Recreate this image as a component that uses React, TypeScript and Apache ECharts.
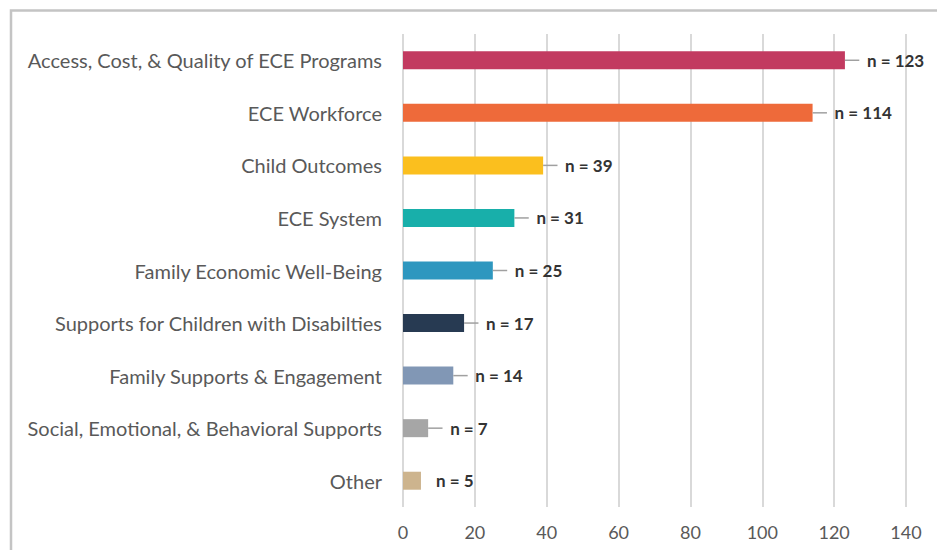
import React, { useEffect, useRef } from "react";
import * as echarts from "echarts";

const categories = [
  "Access, Cost, & Quality of ECE Programs",
  "ECE Workforce",
  "Child Outcomes",
  "ECE System",
  "Family Economic Well-Being",
  "Supports for Children with Disabilties",
  "Family Supports & Engagement",
  "Social, Emotional, & Behavioral Supports",
  "Other",
];
const counts = [123, 114, 39, 31, 25, 17, 14, 7, 5];
const whiskers = [4, 4, 4, 4, 4, 4, 4, 4, 0];
const barColors = [
  "#C23A60",
  "#EE6A3A",
  "#FBBF1E",
  "#18AFAA",
  "#2E97BF",
  "#273A52",
  "#8197B5",
  "#A6A6A6",
  "#CDB48E",
];
const xTicks = { min: 0, max: 140, interval: 20 };

export default function App() {
  const ref = useRef<HTMLDivElement>(null);
  useEffect(() => {
    if (!ref.current) return;
    const chart = echarts.init(ref.current, undefined, { renderer: "svg" });
    chart.setOption({
      animation: false,
      backgroundColor: "#ffffff",
      graphic: [
        {
          type: "rect",
          shape: { x: 11, y: 10.5, width: 1200, height: 1000 },
          style: { fill: "none", stroke: "#c4c4c4", lineWidth: 2.5 },
          silent: true,
        },
      ],
      grid: { left: 403, right: 31, top: 34, bottom: 43, containLabel: false },
      xAxis: {
        type: "value",
        min: xTicks.min,
        max: xTicks.max,
        interval: xTicks.interval,
        axisLine: { show: false },
        axisTick: { show: false },
        axisLabel: {
          color: "#595959",
          fontFamily: "Lato",
          fontSize: 18,
          margin: 16,
        },
        splitLine: { show: true, lineStyle: { color: "#d9d9d9", width: 2 } },
      },
      yAxis: {
        type: "category",
        data: categories,
        inverse: true,
        axisLine: { show: false },
        axisTick: { show: false },
        axisLabel: {
          color: "#595959",
          fontFamily: "Lato",
          fontSize: 20,
          margin: 21,
        },
      },
      series: [
        {
          type: "bar",
          barWidth: 18,
          data: counts.map((v, i) => ({
            value: v,
            itemStyle: { color: barColors[i] },
            label: { distance: whiskers[i] ? 22 : 15 },
          })),
          label: {
            show: true,
            position: "right",
            distance: 22,
            formatter: (p: any) => "n = " + p.value,
            color: "#333333",
            fontFamily: "Lato",
            fontWeight: "bold",
            fontSize: 17,
          },
          z: 2,
        },
        {
          type: "custom",
          renderItem: (params: any, api: any) => {
            const v = api.value(0);
            const e = api.value(1);
            const idx = api.value(2);
            if (!e) return null;
            const s = api.coord([v, idx]);
            const t = api.coord([v + e, idx]);
            return {
              type: "line",
              shape: { x1: s[0], y1: s[1], x2: t[0], y2: t[1] },
              style: { stroke: "#a0a0a0", lineWidth: 1.5 },
            };
          },
          encode: { x: 0, y: 2 },
          data: counts.map((v, i) => [v, whiskers[i], i]),
          z: 3,
        },
      ],
    });
    return () => chart.dispose();
  }, []);
  return (
    <div
      ref={ref}
      style={{ position: "fixed", left: 0, top: 0, width: 937, height: 550 }}
    />
  );
}
